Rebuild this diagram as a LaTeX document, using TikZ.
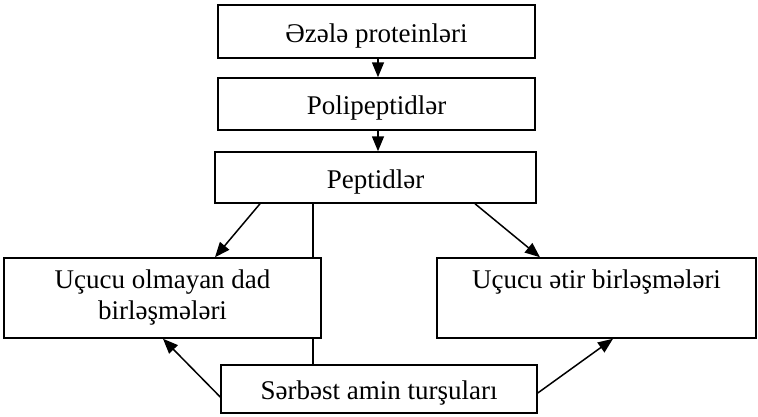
\documentclass[tikz,border=0pt]{standalone}
\usepackage{fontspec}
\setmainfont{Liberation Serif}
\usetikzlibrary{arrows.meta}
\begin{document}
\begin{tikzpicture}[x=1pt,y=-1pt,
  box/.style={draw,fill=white,line width=1.5pt,rectangle,inner sep=0pt,align=center,
    font=\fontsize{27}{31}\selectfont,
    execute at begin node={\rule[-7pt]{0pt}{35pt}}},
  conn/.style={line width=1.5pt},
  arr/.style={conn,-{Triangle[length=15pt,width=12pt]}}]
\useasboundingbox (0,0) rectangle (758,416);
\node[box,minimum width=317pt,minimum height=53pt] (p1) at (376.5,31.5) {Əzələ proteinləri};
\node[box,minimum width=317pt,minimum height=52pt] (p2) at (376.5,104) {Polipeptidlər};
\node[box,minimum width=321pt,minimum height=51pt] (p3) at (375.5,177.5) {Peptidlər};
\node[box,minimum width=316pt,minimum height=48pt] (S) at (379,389) {Sərbəst amin turşuları};
\draw[conn] ([xshift=-62.5pt]p3.south) -- ([xshift=-62.5pt]p3.south |- S.north);
\node[box,minimum width=317pt,minimum height=80pt] (L) at (162.5,298) {Uçucu olmayan dad\\birləşmələri};
\node[box,minimum width=319pt,minimum height=80pt] (R) at (596.5,298) {Uçucu ətir birləşmələri\\\mbox{}};
\draw[arr] ([xshift=1.5pt]p1.south) -- ([xshift=1.5pt]p2.north);
\draw[arr] ([xshift=1.5pt]p2.south) -- ([xshift=2.5pt]p3.north);
\draw[arr] ([xshift=-115.5pt]p3.south) -- ([xshift=52.5pt]L.north);
\draw[arr] ([xshift=99.5pt]p3.south) -- ([xshift=-56.5pt]R.north);
\draw[arr] ([yshift=-8pt]S.west) -- ([xshift=0.5pt]L.south);
\draw[arr] ([yshift=-4pt]S.east) -- ([xshift=16.5pt]R.south);
\end{tikzpicture}
\end{document}
